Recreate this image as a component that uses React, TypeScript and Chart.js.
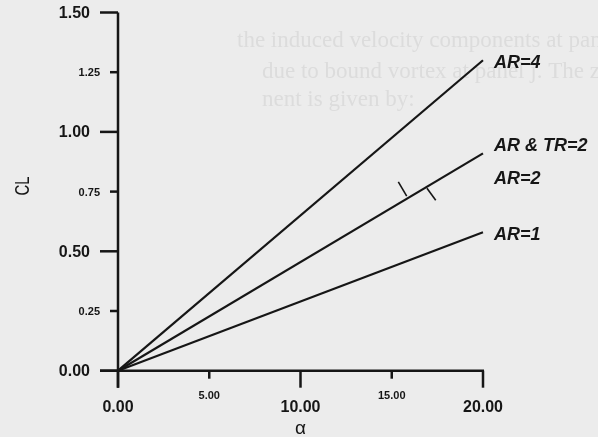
import React, { useEffect, useRef } from "react";
import { Chart, registerables } from "chart.js";

Chart.register(...registerables);

// ---- data ----
const alpha = [0, 20];
const clAR4 = [0, 1.3];
const clAR2 = [0, 0.91];
const clAR1 = [0, 0.58];
const seriesLabels = [["AR=4"], ["AR & TR=2", "AR=2"], ["AR=1"]];

// small cross marks drawn on the middle line
const markAx = [15.36, 15.82];
const markAy = [0.791, 0.731];
const markBx = [16.93, 17.41];
const markBy = [0.764, 0.714];

const xTickValues = [0, 5, 10, 15, 20];
const xTickLabels = ["0.00", "5.00", "10.00", "15.00", "20.00"];
const xTickMajor = [true, false, true, false, true];
const yTickValues = [0, 0.25, 0.5, 0.75, 1.0, 1.25, 1.5];
const yTickLabels = ["0.00", "0.25", "0.50", "0.75", "1.00", "1.25", "1.50"];
const yTickMajor = [true, false, true, false, true, false, true];

const xTitle = "α";
const yTitle = "CL";

const ghostLines = [
  "the induced velocity components at pane",
  "due to bound vortex at panel j. The z com",
  "nent is given by:",
];

const FONT = "'Liberation Sans', Arial, sans-serif";
const INK = "#161616";

const pts = (xs: number[], ys: number[]) => xs.map((x, i) => ({ x, y: ys[i] }));

const axesPlugin = {
  id: "customAxes",
  beforeDraw(chart: any) {
    const { ctx, width, height } = chart;
    ctx.save();
    ctx.fillStyle = "#ececec";
    ctx.fillRect(0, 0, width, height);
    // faint bleed-through text from the scanned page
    ctx.fillStyle = "#dcdcdc";
    ctx.font = "23px 'Liberation Serif', 'DejaVu Serif', serif";
    ctx.textBaseline = "alphabetic";
    ctx.textAlign = "left";
    ctx.fillText(ghostLines[0], 237, 47);
    ctx.fillText(ghostLines[1], 262, 78);
    ctx.fillText(ghostLines[2], 262, 106);
    ctx.restore();
  },
  afterDraw(chart: any) {
    const { ctx } = chart;
    const xs = chart.scales.x;
    const ys = chart.scales.y;
    const x0 = xs.getPixelForValue(0);
    const x20 = xs.getPixelForValue(20);
    const y0 = ys.getPixelForValue(0);
    const yTop = ys.getPixelForValue(1.5);
    ctx.save();
    ctx.strokeStyle = INK;
    ctx.fillStyle = INK;
    ctx.lineWidth = 2.5;
    ctx.lineCap = "butt";
    // axis lines
    ctx.beginPath();
    ctx.moveTo(x0, yTop);
    ctx.lineTo(x0, y0 + 17);
    ctx.moveTo(x0 - 18, y0);
    ctx.lineTo(x20 + 1, y0);
    ctx.stroke();
    // y ticks + labels
    ctx.textBaseline = "middle";
    ctx.textAlign = "right";
    yTickValues.forEach((v, i) => {
      const py = ys.getPixelForValue(v);
      const len = yTickMajor[i] ? 18 : 8;
      ctx.beginPath();
      ctx.moveTo(x0 - len, py);
      ctx.lineTo(x0, py);
      ctx.stroke();
      ctx.font = yTickMajor[i] ? `bold 16px ${FONT}` : `bold 11px ${FONT}`;
      ctx.fillText(yTickLabels[i], x0 - len - 10, py + 1);
    });
    // x ticks + labels
    ctx.textAlign = "center";
    xTickValues.forEach((v, i) => {
      const px = xs.getPixelForValue(v);
      const len = xTickMajor[i] ? 17 : 8;
      ctx.beginPath();
      ctx.moveTo(px, y0);
      ctx.lineTo(px, y0 + len);
      ctx.stroke();
      ctx.font = xTickMajor[i] ? `bold 16px ${FONT}` : `bold 11px ${FONT}`;
      ctx.fillText(xTickLabels[i], px, y0 + (xTickMajor[i] ? 37 : 25));
    });
    // titles
    ctx.font = `19px ${FONT}`;
    ctx.fillText(xTitle, xs.getPixelForValue(10), 429);
    ctx.save();
    ctx.translate(23, 186);
    ctx.rotate(-Math.PI / 2);
    ctx.scale(0.75, 1);
    ctx.font = `20px ${FONT}`;
    ctx.fillText(yTitle, 0, 0);
    ctx.restore();
    // series end labels
    ctx.font = `italic bold 18px ${FONT}`;
    ctx.textAlign = "left";
    const ends = [clAR4, clAR2, clAR1];
    ends.forEach((arr, si) => {
      const ex = xs.getPixelForValue(alpha[alpha.length - 1]) + 11;
      const ey = ys.getPixelForValue(arr[arr.length - 1]);
      const labs = seriesLabels[si];
      if (labs.length === 1) {
        ctx.fillText(labs[0], ex, ey + 3);
      } else {
        ctx.fillText(labs[0], ex, ey - 7);
        ctx.fillText(labs[1], ex, ey + 26);
      }
    });
    ctx.restore();
  },
};

export default function App() {
  const ref = useRef<HTMLCanvasElement | null>(null);
  useEffect(() => {
    if (!ref.current) return;
    const lineDs = (data: any[], w = 2.2) => ({
      data,
      showLine: true,
      borderColor: INK,
      borderWidth: w,
      pointRadius: 0,
      fill: false,
      clip: false as any,
    });
    const chart = new Chart(ref.current, {
      type: "scatter",
      data: {
        datasets: [
          lineDs(pts(alpha, clAR4)),
          lineDs(pts(alpha, clAR2)),
          lineDs(pts(alpha, clAR1)),
          lineDs(pts(markAx, markAy), 1.6),
          lineDs(pts(markBx, markBy), 1.6),
        ],
      },
      options: {
        animation: false,
        responsive: false,
        events: [],
        layout: { padding: { left: 118, right: 115, top: 12.5, bottom: 66.3 } },
        plugins: { legend: { display: false }, tooltip: { enabled: false } },
        scales: {
          x: { type: "linear", min: 0, max: 20, display: false },
          y: { type: "linear", min: 0, max: 1.5, display: false },
        },
      },
      plugins: [axesPlugin],
    });
    return () => chart.destroy();
  }, []);
  return (
    <div style={{ position: "absolute", left: 0, top: 0, width: 598, height: 437 }}>
      <canvas ref={ref} width={598} height={437} style={{ display: "block" }} />
    </div>
  );
}
